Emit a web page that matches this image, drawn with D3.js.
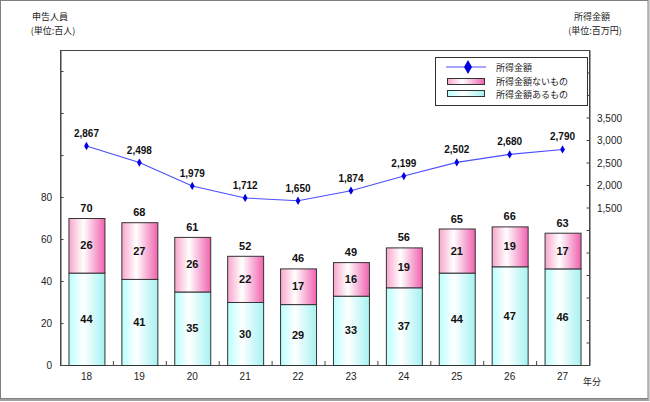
<!DOCTYPE html>
<html><head><meta charset="utf-8">
<script src="https://cdn.jsdelivr.net/npm/d3@7"></script>
<style>
html,body{margin:0;padding:0;background:#fff;}
svg{display:block;}
text{font-family:"Liberation Sans",Arial,sans-serif;}
.jp{font-family:"Noto Sans CJK JP","Noto Sans",sans-serif;}
</style></head>
<body>
<script>
const years = ['18','19','20','21','22','23','24','25','26','27'];
const withIncome = [44,41,35,30,29,33,37,44,47,46];      // 所得金額あるもの
const withoutIncome = [26,27,26,22,17,16,19,21,19,17];   // 所得金額ないもの
const totals = [70,68,61,52,46,49,56,65,66,63];
const income = [2867,2498,1979,1712,1650,1874,2199,2502,2680,2790]; // 所得金額
const leftTicks = [0,20,40,60,80,100,120,140];
const leftLabels = ['0','20','40','60','80'];
const rightTicks = d3.range(-2000,5001,500);
const rightLabels = [1500,2000,2500,3000,3500];

const W=650,H=402;
const L=60,R=589,T=50,B=365;
const svg=d3.select('body').append('svg').attr('width',W).attr('height',H);

// outer frame
svg.append('rect').attr('x',0.5).attr('y',0.5).attr('width',647.5).attr('height',398)
  .attr('fill','#fff').attr('stroke','#808080').attr('stroke-width',1);
svg.append('line').attr('x1',0).attr('x2',649).attr('y1',400).attr('y2',400).attr('stroke','#a0a0a0').attr('stroke-width',2);
svg.append('line').attr('x1',649).attr('x2',649).attr('y1',0).attr('y2',401).attr('stroke','#a0a0a0').attr('stroke-width',1);

const defs=svg.append('defs');
function grad(id,c){
  const g=defs.append('linearGradient').attr('id',id).attr('x1','0%').attr('x2','100%').attr('y1','0%').attr('y2','0%');
  g.append('stop').attr('offset','0%').attr('stop-color',c[0]);
  g.append('stop').attr('offset','40%').attr('stop-color','#ffffff');
  g.append('stop').attr('offset','100%').attr('stop-color',c[1]);
}
grad('gPink',['#f8a6cc','#f062ae']);
grad('gCyan',['#b8ffff','#a6f2f2']);

const x=d3.scaleBand().domain(years).range([L,R]).paddingInner(0.32).paddingOuter(0.16);
const y=d3.scaleLinear().domain([0,150]).range([B,T]);
const y2=d3.scaleLinear().domain([-2000,5000]).range([B,T]);

// plot frame
svg.append('rect').attr('x',L+0.5).attr('y',T+0.5).attr('width',R-L).attr('height',B-T)
  .attr('fill','none').attr('stroke','#444').attr('stroke-width',1);

// left axis
const la=svg.append('g').attr('transform',`translate(${L+0.5},0)`)
  .call(d3.axisRight(y).tickValues(leftTicks).tickSize(3).tickFormat(''));
la.select('.domain').attr('stroke','#444');
la.selectAll('.tick line').attr('stroke','#444');
svg.append('g').selectAll('text').data(leftLabels).join('text')
  .attr('x',52).attr('y',d=>y(+d)+4).attr('text-anchor','end')
  .attr('font-size',10).attr('fill','#222').text(d=>d);

// right axis
const ra=svg.append('g').attr('transform',`translate(${R+0.5},0)`)
  .call(d3.axisLeft(y2).tickValues(rightTicks).tickSize(3).tickFormat(''));
ra.select('.domain').attr('stroke','#444');
ra.selectAll('.tick line').attr('stroke','#444');
svg.append('g').selectAll('text').data(rightLabels).join('text')
  .attr('x',597).attr('y',d=>y2(d)+4).attr('text-anchor','start')
  .attr('font-size',10).attr('fill','#222').text(d=>d3.format(',')(d));

// bottom axis: category ticks at band boundaries
const step=x.step();
svg.append('g').selectAll('line').data(d3.range(1,years.length)).join('line')
  .attr('x1',i=>L+i*step+0.5).attr('x2',i=>L+i*step+0.5)
  .attr('y1',B).attr('y2',B-4).attr('stroke','#444');
svg.append('g').selectAll('text').data(years).join('text')
  .attr('x',d=>x(d)+x.bandwidth()/2).attr('y',380).attr('text-anchor','middle')
  .attr('font-size',10).attr('fill','#222').text(d=>d);
svg.append('text').attr('class','jp').attr('x',583).attr('y',385).attr('font-size',9).attr('fill','#222').text('年分');

// bars
const bars=svg.append('g');
years.forEach((yr,i)=>{
  const bx=x(yr), bw=x.bandwidth();
  bars.append('rect').attr('x',bx+0.5).attr('y',y(withIncome[i])+0.5)
    .attr('width',bw).attr('height',y(0)-y(withIncome[i]))
    .attr('fill','url(#gCyan)').attr('stroke','#333').attr('stroke-width',1);
  bars.append('rect').attr('x',bx+0.5).attr('y',y(withIncome[i]+withoutIncome[i])+0.5)
    .attr('width',bw).attr('height',y(withIncome[i])-y(withIncome[i]+withoutIncome[i]))
    .attr('fill','url(#gPink)').attr('stroke','#333').attr('stroke-width',1);
  const cx=bx+bw/2;
  bars.append('text').attr('x',cx).attr('y',(y(0)+y(withIncome[i]))/2+4).attr('text-anchor','middle')
    .attr('font-size',11).attr('font-weight','bold').attr('fill','#111').text(withIncome[i]);
  bars.append('text').attr('x',cx).attr('y',(y(withIncome[i])+y(withIncome[i]+withoutIncome[i]))/2+4).attr('text-anchor','middle')
    .attr('font-size',11).attr('font-weight','bold').attr('fill','#111').text(withoutIncome[i]);
  bars.append('text').attr('x',cx).attr('y',y(totals[i])-6).attr('text-anchor','middle')
    .attr('font-size',11).attr('font-weight','bold').attr('fill','#111').text(totals[i]);
});

// line
const line=d3.line().x((d,i)=>x(years[i])+x.bandwidth()/2).y(d=>y2(d));
svg.append('path').datum(income).attr('d',line).attr('fill','none').attr('stroke','#4d4dff').attr('stroke-width',1.1);
const diamond=d3.symbol().type(d3.symbolDiamond).size(20);
svg.append('g').selectAll('path').data(income).join('path')
  .attr('d',diamond).attr('transform',(d,i)=>`translate(${x(years[i])+x.bandwidth()/2},${y2(d)})`)
  .attr('fill','#0000e0');
svg.append('g').selectAll('text').data(income).join('text')
  .attr('x',(d,i)=>x(years[i])+x.bandwidth()/2).attr('y',d=>y2(d)-9).attr('text-anchor','middle')
  .attr('font-size',10).attr('font-weight','bold').attr('fill','#111').text(d=>d3.format(',')(d));

// axis titles
svg.append('text').attr('class','jp').attr('x',50).attr('y',20).attr('text-anchor','middle').attr('font-size',9).attr('fill','#222').text('申告人員');
svg.append('text').attr('class','jp').attr('x',53).attr('y',34).attr('text-anchor','middle').attr('font-size',9).attr('fill','#222').text('(単位:百人)');
svg.append('text').attr('class','jp').attr('x',592).attr('y',20).attr('text-anchor','middle').attr('font-size',9).attr('fill','#222').text('所得金額');
svg.append('text').attr('class','jp').attr('x',595).attr('y',34).attr('text-anchor','middle').attr('font-size',9).attr('fill','#222').text('(単位:百万円)');

// legend
const lg=svg.append('g');
lg.append('rect').attr('x',435.5).attr('y',57.5).attr('width',152).attr('height',48).attr('fill','#fff').attr('stroke','#333');
lg.append('line').attr('x1',446).attr('x2',486).attr('y1',67).attr('y2',67).attr('stroke','#4d4dff').attr('stroke-width',1.1);
lg.append('path').attr('d',d3.symbol().type(d3.symbolDiamond).size(55)).attr('transform','translate(468,67)').attr('fill','#0000e0');
lg.append('rect').attr('x',447.5).attr('y',78.5).attr('width',37).attr('height',6).attr('fill','url(#gPink)').attr('stroke','#333');
lg.append('rect').attr('x',447.5).attr('y',90.5).attr('width',37).attr('height',6).attr('fill','url(#gCyan)').attr('stroke','#333');
const lt=['所得金額','所得金額ないもの','所得金額あるもの'];
const ly=[70.5,85,97.5];
lg.selectAll('text.l').data(lt).join('text').attr('class','jp l').attr('x',496).attr('y',(d,i)=>ly[i])
  .attr('font-size',9).attr('fill','#222').text(d=>d);
</script>
</body></html>
